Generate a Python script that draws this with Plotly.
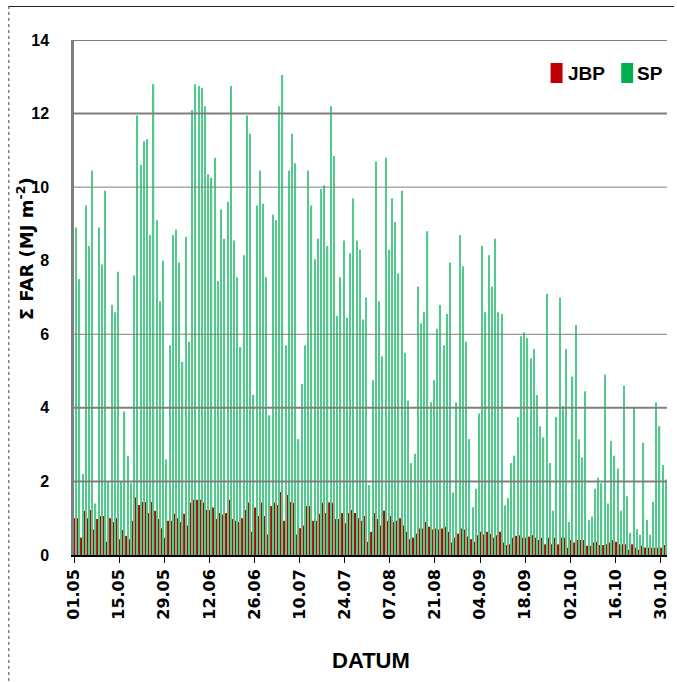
import pandas as pd
import plotly.graph_objects as go

# ---- data ----
start_date = "2013-05-01"
n_days = 184
dates = pd.date_range(start_date, periods=n_days, freq="D")
tick_labels = ["01.05", "15.05", "29.05", "12.06", "26.06", "10.07", "24.07",
               "07.08", "21.08", "04.09", "18.09", "02.10", "16.10", "30.10"]

SP = [
    8.9, 7.5, 2.2, 9.5, 8.4, 10.45, 1.4, 8.9, 7.9, 9.9,
    2.0, 6.8, 6.6, 7.7, 2.0, 3.9, 2.7, 1.95, 7.6, 11.95,
    10.6, 11.25, 11.3, 8.7, 12.8, 9.1, 6.9, 8.0, 2.6, 5.7,
    8.7, 8.85, 7.95, 5.25, 8.65, 5.8, 12.1, 12.8, 12.75, 12.7,
    12.2, 10.35, 10.25, 10.8, 7.45, 9.4, 8.6, 9.6, 12.75, 8.55,
    7.55, 5.65, 8.15, 11.95, 11.45, 4.35, 9.5, 10.45, 9.55, 7.55,
    3.8, 9.25, 9.1, 12.2, 13.05, 5.7, 10.45, 11.45, 10.65, 3.15,
    4.65, 5.7, 10.45, 9.5, 8.05, 8.6, 9.95, 10.05, 8.4, 12.2,
    10.85, 6.5, 7.55, 8.55, 6.45, 8.2, 9.7, 8.55, 8.3, 6.4,
    7.0, 1.9, 4.75, 10.7, 6.9, 5.4, 10.8, 8.3, 9.7, 9.05,
    7.65, 9.9, 5.5, 4.2, 2.5, 2.75, 7.3, 6.3, 6.6, 8.8,
    4.15, 4.75, 6.15, 6.8, 5.7, 6.55, 7.95, 1.7, 4.15, 8.7,
    7.85, 5.8, 3.15, 1.3, 1.8, 3.85, 8.4, 6.6, 8.15, 7.3,
    8.6, 6.6, 6.55, 1.35, 1.55, 2.5, 2.7, 3.75, 5.95, 6.05,
    5.9, 5.35, 5.6, 4.35, 3.5, 3.2, 7.1, 2.5, 1.2, 3.75,
    7.0, 4.05, 5.6, 0.9, 4.85, 6.25, 3.15, 2.65, 4.45, 0.95,
    1.05, 1.8, 2.1, 1.95, 4.9, 1.4, 3.1, 2.7, 2.35, 1.2,
    4.6, 1.6, 0.6, 4.0, 0.7, 0.55, 3.05, 0.95, 0.55, 1.45,
    4.15, 3.5, 2.45, 2.05,
]

JBP = [
    1.0, 1.0, 0.47, 1.2, 1.0, 1.22, 0.69, 0.98, 1.06, 1.06,
    0.36, 1.0, 0.9, 1.0, 0.43, 0.68, 0.52, 0.43, 0.93, 1.56,
    1.36, 1.44, 1.44, 1.14, 1.44, 1.2, 0.98, 0.73, 0.47, 0.93,
    0.93, 1.12, 1.0, 0.9, 1.12, 0.8, 1.42, 1.5, 1.5, 1.5,
    1.43, 1.22, 1.22, 1.29, 0.98, 1.14, 1.1, 1.14, 1.5, 0.98,
    0.93, 0.9, 1.0, 1.22, 1.43, 0.63, 1.29, 1.06, 1.43, 1.06,
    0.56, 1.33, 1.43, 1.36, 1.71, 0.93, 1.63, 1.44, 1.42, 0.56,
    0.73, 0.8, 1.33, 1.33, 0.93, 0.93, 1.12, 1.42, 1.14, 1.43,
    1.42, 0.98, 0.98, 1.14, 0.86, 1.14, 1.22, 1.14, 1.0, 0.93,
    1.06, 0.36, 0.63, 1.14, 0.98, 0.8, 1.2, 0.93, 1.06, 0.9,
    0.93, 1.0, 0.8, 0.63, 0.43, 0.47, 0.58, 0.72, 0.72, 0.9,
    0.77, 0.69, 0.72, 0.69, 0.72, 0.77, 0.63, 0.34, 0.47, 0.58,
    0.72, 0.69, 0.5, 0.43, 0.36, 0.54, 0.63, 0.56, 0.63, 0.58,
    0.47, 0.54, 0.63, 0.34, 0.27, 0.29, 0.47, 0.52, 0.54, 0.47,
    0.47, 0.5, 0.54, 0.47, 0.41, 0.47, 0.29, 0.47, 0.29, 0.47,
    0.29, 0.47, 0.47, 0.2, 0.41, 0.34, 0.41, 0.41, 0.41, 0.25,
    0.25, 0.34, 0.36, 0.27, 0.27, 0.29, 0.34, 0.41, 0.36, 0.29,
    0.29, 0.29, 0.14, 0.29, 0.2, 0.14, 0.25, 0.2, 0.2, 0.2,
    0.2, 0.2, 0.2, 0.27,
]

series_names = ["JBP", "SP"]
legend_colors = ["#C00000", "#00B050"]   # solid swatch colours
bar_colors = ["#C00000", "#52CA8C"]      # thin bars read lighter in the reference

y_ticks = [0, 2, 4, 6, 8, 10, 12, 14]
grid_levels = [2, 4, 6, 10, 12, 14]
grid_widths = [2, 2, 1, 1, 2, 2]

# ---- figure ----
bar_x = dates + pd.Timedelta(hours=12)
tick_vals = [dates[0] + pd.Timedelta(days=14 * i) for i in range(len(tick_labels))]

fig = go.Figure()
for name, vals, col in zip(series_names, [JBP, SP], bar_colors):
    fig.add_trace(go.Bar(x=bar_x, y=vals, name=name,
                         marker=dict(color=col, line=dict(width=0))))

W, H = 677, 682
L, R, T, B = 74, 7, 40, 127
pw, ph = W - L - R, H - T - B

def px_x(p):
    return (p - L) / pw

def px_y(p):
    return (H - B - p) / ph

narrow = "Liberation Sans Narrow, Liberation Sans, Arial"

fig.update_layout(
    width=W, height=H,
    margin=dict(l=L, r=R, t=T, b=B),
    paper_bgcolor="white", plot_bgcolor="white",
    barmode="group", bargap=0.2, bargroupgap=0,
    showlegend=False,
    xaxis=dict(
        type="date",
        range=[dates[0], dates[-1] + pd.Timedelta(days=1)],
        tickvals=tick_vals, ticktext=tick_labels,
        tickangle=-90,
        ticks="outside", ticklen=6, tickcolor="black", tickwidth=1,
        tickfont=dict(family="DejaVu Sans", size=16, color="black", weight="bold"),
        showline=True, linecolor="black", linewidth=1.5,
        showgrid=False, zeroline=False,
    ),
    yaxis=dict(
        range=[0, 14], tickvals=y_ticks,
        tickfont=dict(family=narrow, size=16, color="black", weight="bold"),
        ticks="", ticklabelstandoff=19,
        showline=True, linecolor="#7f7f7f", linewidth=2.5,
        showgrid=False, zeroline=False,
    ),
)

shapes = []
for lvl, w in zip(grid_levels, grid_widths):
    shapes.append(dict(type="line", xref="paper", yref="y", x0=0, x1=1, y0=lvl, y1=lvl,
                       line=dict(color="#7f7f7f", width=w), layer="above"))
# outer frame (left and top edges visible)
shapes.append(dict(type="line", xref="paper", yref="paper", x0=px_x(8.5), x1=px_x(8.5),
                   y0=px_y(6), y1=px_y(682), line=dict(color="#444", width=1, dash="dot")))
shapes.append(dict(type="line", xref="paper", yref="paper", x0=px_x(8.5), x1=px_x(677),
                   y0=px_y(6.5), y1=px_y(6.5), line=dict(color="#222", width=1)))

# legend (swatch + label), top right inside plot
legend_swatch_x = [553, 624]
legend_text_x = [568, 638]
for name, col, sx, tx in zip(series_names, legend_colors, legend_swatch_x, legend_text_x):
    shapes.append(dict(type="rect", xref="paper", yref="paper",
                       x0=px_x(sx), x1=px_x(sx + 12), y0=px_y(83), y1=px_y(63),
                       fillcolor=col, line=dict(width=0), layer="above"))
    fig.add_annotation(text=name, xref="paper", yref="paper",
                       x=px_x(tx), y=px_y(73), xanchor="left", yanchor="middle",
                       showarrow=False,
                       font=dict(family=narrow, size=19, color="black", weight="bold"))
fig.update_layout(shapes=shapes)

fig.add_annotation(text="Σ FAR (MJ m<sup>-2</sup>)", xref="paper", yref="paper",
                   x=px_x(25), y=px_y(249), xanchor="center", yanchor="middle",
                   showarrow=False, textangle=-90,
                   font=dict(family="DejaVu Sans", size=18, color="black", weight="bold"))
fig.add_annotation(text="DATUM", xref="paper", yref="paper",
                   x=px_x(372), y=px_y(660), xanchor="center", yanchor="middle",
                   showarrow=False,
                   font=dict(family=narrow, size=22, color="black", weight="bold"))

fig.write_html("out.html")
